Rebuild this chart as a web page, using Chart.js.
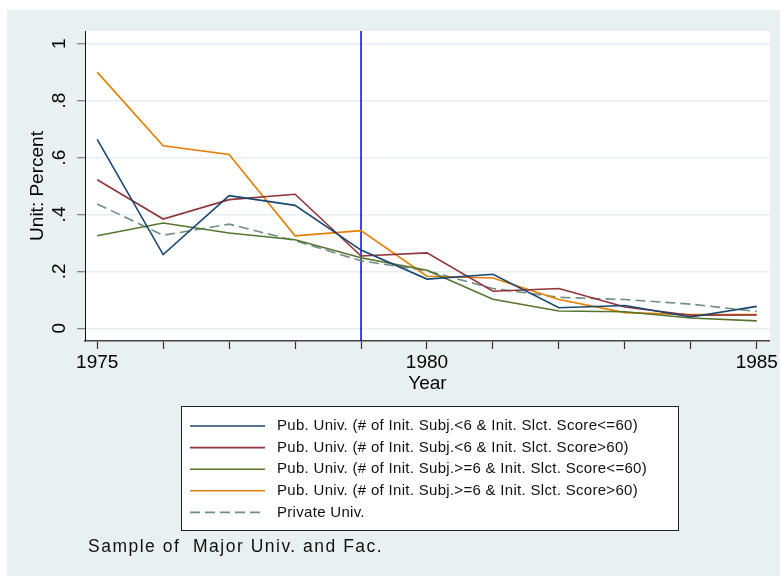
<!DOCTYPE html>
<html>
<head>
<meta charset="utf-8">
<title>Unit Percent by Year</title>
<script src="https://cdn.jsdelivr.net/npm/chart.js@4.4.1/dist/chart.umd.min.js"></script>
<style>
  html, body { margin: 0; padding: 0; background: #fff; }
  canvas { display: block; }
</style>
</head>
<body>
<canvas id="unitChart" width="780" height="576"></canvas>
<script>
// data
const years = [1975, 1976, 1977, 1978, 1979, 1980, 1981, 1982, 1983, 1984, 1985];

const pubSmallLow  = [0.664, 0.259, 0.466, 0.432, 0.275, 0.173, 0.190, 0.072, 0.080, 0.040, 0.077];
const pubSmallHigh = [0.522, 0.384, 0.452, 0.471, 0.254, 0.265, 0.130, 0.140, 0.075, 0.046, 0.047];
const pubLargeLow  = [0.325, 0.370, 0.335, 0.311, 0.248, 0.204, 0.102, 0.061, 0.058, 0.036, 0.026];
const pubLargeHigh = [0.900, 0.641, 0.611, 0.325, 0.343, 0.183, 0.177, 0.101, 0.055, 0.048, 0.048];
const privateUniv  = [0.437, 0.327, 0.366, 0.308, 0.237, 0.202, 0.140, 0.109, 0.101, 0.085, 0.059];

const seriesLabels = [
    "Pub. Univ. (# of Init. Subj.<6 & Init. Slct. Score<=60)",
    "Pub. Univ. (# of Init. Subj.<6 & Init. Slct. Score>60)",
    "Pub. Univ. (# of Init. Subj.>=6 & Init. Slct. Score<=60)",
    "Pub. Univ. (# of Init. Subj.>=6 & Init. Slct. Score>60)",
    "Private Univ."
];

const yTicks = [0, 0.2, 0.4, 0.6, 0.8, 1];
const yTickLabels = ["0", ".2", ".4", ".6", ".8", "1"];
const xLabelYears = [1975, 1980, 1985];
const markerYear = 1979;
const noteText = "Sample of  Major Univ. and Fac.";

const FONT = '"Liberation Sans", Arial, sans-serif';
Chart.defaults.font.family = FONT;

function points(values){
    return years.map((yr, i) => ({ x: yr, y: values[i] }));
}

//------------------------
// plugins
//------------------------

const backdrop = {
    id: "backdrop",
    beforeDraw(c){
        const ctx = c.ctx;
        const a = c.chartArea;
        ctx.save();
        ctx.fillStyle = "#ffffff";
        ctx.fillRect(0, 0, c.width, c.height);
        ctx.fillStyle = "#e9f0f2";
        ctx.fillRect(7, 10, c.width - 7, c.height - 10);
        ctx.fillStyle = "#ffffff";
        ctx.fillRect(a.left, a.top, a.right - a.left, a.bottom - a.top);
        ctx.restore();
    }
};

const yearLine = {
    id: "yearLine",
    beforeDatasetsDraw(c){
        const ctx = c.ctx;
        const a = c.chartArea;
        const x = c.scales.x.getPixelForValue(markerYear);
        ctx.save();
        ctx.strokeStyle = "#0000ff";
        ctx.lineWidth = 1.5;
        ctx.beginPath();
        ctx.moveTo(x, a.top);
        ctx.lineTo(x, a.bottom);
        ctx.stroke();
        ctx.restore();
    }
};

const legendBox = {
    id: "legendBox",
    afterDraw(c){
        const ctx = c.ctx;
        ctx.save();
        ctx.fillStyle = "#ffffff";
        ctx.fillRect(181, 406, 497, 124);
        ctx.strokeStyle = "#222";
        ctx.lineWidth = 1;
        ctx.strokeRect(181.5, 406.5, 497, 124);

        c.data.datasets.forEach((ds, i) => {
            const y = 426 + i * 21.6;
            ctx.strokeStyle = ds.borderColor;
            ctx.lineWidth = ds.borderWidth;
            ctx.setLineDash(ds.borderDash || []);
            ctx.beginPath();
            ctx.moveTo(190, y);
            ctx.lineTo(265, y);
            ctx.stroke();
            ctx.setLineDash([]);

            ctx.fillStyle = "#111";
            ctx.font = "15px " + FONT;
            ctx.letterSpacing = "0.3px";
            ctx.textBaseline = "middle";
            ctx.textAlign = "left";
            ctx.fillText(ds.label, 277, y);
        });

        ctx.fillStyle = "#111";
        ctx.font = "17.5px " + FONT;
        ctx.letterSpacing = "1.5px";
        ctx.textBaseline = "middle";
        ctx.fillText(noteText, 88, 547);
        ctx.restore();
    }
};

//------------------------
// chart
//------------------------

const colors = ["#1a476f", "#90353b", "#55752f", "#e37e00", "#6e8e84"];
const values = [pubSmallLow, pubSmallHigh, pubLargeLow, pubLargeHigh, privateUniv];

const datasets = values.map((v, i) => ({
    label: seriesLabels[i],
    data: points(v),
    borderColor: colors[i],
    backgroundColor: colors[i],
    borderWidth: 1.6,
    borderDash: i === 4 ? [10, 5] : [],
    pointRadius: 0,
    tension: 0,
    fill: false
}));

new Chart(document.getElementById("unitChart"), {
    type: "line",
    data: { datasets: datasets },
    options: {
        responsive: false,
        animation: false,
        devicePixelRatio: 1,
        layout: { padding: { top: 31, right: 5, bottom: 173, left: 0 } },
        plugins: {
            legend: { display: false },
            tooltip: { enabled: false }
        },
        scales: {
            x: {
                type: "linear",
                min: 1974.815,
                max: 1985.2,
                afterBuildTicks: s => { s.ticks = years.map(v => ({ value: v })); },
                afterFit: s => { s.height = 62; },
                ticks: {
                    autoSkip: false,
                    maxRotation: 0,
                    padding: 2,
                    color: "#000",
                    font: { size: 19 },
                    callback: v => xLabelYears.includes(v) ? String(v) : ""
                },
                grid: {
                    drawOnChartArea: false,
                    tickLength: 8,
                    tickColor: "#333",
                    tickWidth: 1.2
                },
                border: { color: "#444", width: 1.5 },
                title: {
                    display: true,
                    text: "Year",
                    color: "#000",
                    font: { size: 19 },
                    padding: { top: 0, bottom: 8 }
                }
            },
            y: {
                min: -0.0446,
                max: 1.0446,
                afterBuildTicks: s => { s.ticks = yTicks.map(v => ({ value: v })); },
                afterFit: s => { s.width = 85; },
                ticks: {
                    minRotation: 90,
                    maxRotation: 90,
                    crossAlign: "center",
                    padding: 9,
                    color: "#000",
                    font: { size: 19 },
                    callback: v => yTickLabels[yTicks.indexOf(v)]
                },
                grid: {
                    color: "#e6eef1",
                    lineWidth: 1.5,
                    tickLength: 8,
                    tickColor: "#666",
                    tickWidth: 1
                },
                border: { color: "#111", width: 1 },
                title: {
                    display: true,
                    text: "Unit: Percent",
                    color: "#000",
                    font: { size: 19 },
                    padding: { top: 26, bottom: 0 }
                }
            }
        }
    },
    plugins: [backdrop, yearLine, legendBox]
});
</script>
</body>
</html>
